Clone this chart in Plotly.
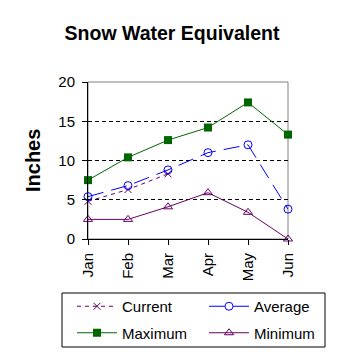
import plotly.graph_objects as go

months = ["Jan", "Feb", "Mar", "Apr", "May", "Jun"]
current = [4.8, 6.3, 8.3]
average = [5.4, 6.8, 8.8, 11.0, 12.0, 3.8]
maximum = [7.5, 10.4, 12.6, 14.2, 17.4, 13.3]
minimum = [2.5, 2.5, 4.1, 5.9, 3.4, 0.0]

purple = "#660066"
fig = go.Figure()
fig.add_trace(go.Scatter(x=months[:len(current)], y=current, name="Current", mode="lines+markers",
                         line=dict(color=purple, width=1, dash="4px,4px"),
                         marker=dict(symbol="x-thin", size=7, line=dict(color=purple, width=1)),
                         cliponaxis=False, legend="legend", legendgroup="c"))
fig.add_trace(go.Scatter(x=months, y=average, name="Average", mode="lines+markers",
                         line=dict(color="#0000FF", width=1, dash="16px,8px"),
                         marker=dict(symbol="circle-open", size=8, color="#0000FF", line=dict(width=1)),
                         cliponaxis=False, legend="legend2", legendgroup="a"))
fig.add_trace(go.Scatter(x=months, y=maximum, name="Maximum", mode="lines+markers",
                         line=dict(color="#006600", width=1),
                         marker=dict(symbol="square", size=8, color="#006600"),
                         cliponaxis=False, legend="legend", legendgroup="m"))
fig.add_trace(go.Scatter(x=months, y=minimum, name="Minimum", mode="lines+markers",
                         line=dict(color=purple, width=1),
                         marker=dict(symbol="triangle-up-open", size=8, color=purple, line=dict(width=1)),
                         cliponaxis=False, legend="legend2", legendgroup="n"))

W = 350.0  # figure size (page has an 8px body margin)
# plot frame (gray top/right)
fig.add_shape(type="rect", xref="paper", yref="paper", x0=0, x1=1, y0=0, y1=1,
              line=dict(color="#808080", width=1), layer="below")
# legend frame
fig.add_shape(type="rect", xref="paper", yref="paper",
              x0=(62 - 88) / 200, x1=(325 - 88) / 200,
              y0=(239 - 347) / 157, y1=(239 - 293) / 157,
              line=dict(color="black", width=1))

fig.add_annotation(text="<b>Inches</b>", xref="paper", yref="paper",
                   x=(33 - 88) / 200, y=(239 - 160) / 157, xanchor="center", yanchor="middle",
                   textangle=-90, showarrow=False, font=dict(size=20))

leg_common = dict(orientation="v", xref="container", yref="container", xanchor="left", yanchor="top",
                  bgcolor="rgba(0,0,0,0)", borderwidth=0, font=dict(size=15), traceorder="grouped",
                  tracegroupgap=4, itemwidth=40)
fig.update_layout(
    width=350, height=350,
    margin=dict(l=80, r=70, t=74, b=119, autoexpand=False),
    paper_bgcolor="white", plot_bgcolor="white",
    font=dict(family="Liberation Sans, Arial", size=15, color="black"),
    title=dict(text="<b>Snow Water Equivalent</b>", x=164 / W, xanchor="center", y=1 - 25 / W, yanchor="middle",
               xref="container", yref="container", font=dict(size=19.5)),
    xaxis=dict(type="category", range=[0, 5], tickangle=-90, showgrid=False, automargin=False,
               showline=True, linecolor="black", linewidth=1, ticklabelstandoff=2,
               ticks="outside", ticklen=5, tickcolor="black", zeroline=False),
    yaxis=dict(range=[0, 20], dtick=5, showline=True, linecolor="black", linewidth=1, automargin=False,
               ticks="outside", ticklen=5, tickcolor="black", ticklabelstandoff=4,
               showgrid=True, gridcolor="black", griddash="4px,3px", gridwidth=1, zeroline=False),
    legend=dict(x=64 / W, y=1 - 282 / W, **leg_common),
    legend2=dict(x=196 / W, y=1 - 282 / W, **leg_common),
    showlegend=True,
)
fig.write_html("out.html")
